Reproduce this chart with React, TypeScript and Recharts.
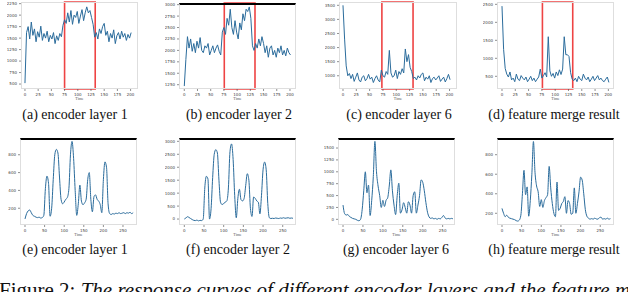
import React from 'react';
import { LineChart, Line, XAxis, YAxis, ReferenceArea } from 'recharts';

const TOP_STEP = 3;
const BOTTOM_STEP = 4;

const topTimeTicks = [0, 25, 50, 75, 100, 125, 150, 175, 200];
const bottomTimeTicks = [0, 50, 100, 150, 200, 250];

const yTicksA = [500, 750, 1000, 1250, 1500, 1750, 2000, 2250];
const yTicksB = [1250, 1500, 1750, 2000, 2250, 2500, 2750, 3000];
const yTicksC = [1000, 1500, 2000, 2500, 3000, 3500];
const yTicksD = [500, 1000, 1500, 2000, 2500];
const yTicksE = [200, 400, 600, 800];
const yTicksF = [0, 500, 1000, 1500, 2000, 2500, 3000];
const yTicksG = [0, 250, 500, 750, 1000, 1250, 1500];
const yTicksH = [200, 400, 600, 800];

const encoder1Top = [520, 1620, 1750, 1480, 1850, 1560, 1700, 1420, 1640, 1520, 1760, 1450, 1600, 1500, 1650, 1420, 1560, 1480, 1620, 1380, 1550, 1450, 1600, 1530, 1780, 1900, 1820, 2050, 1850, 2100, 1800, 2000, 1950, 2080, 1820, 1980, 2120, 1880, 2050, 2180, 2050, 2100, 1950, 1800, 1520, 1620, 1480, 1700, 1600, 1750, 1820, 1560, 1650, 1420, 1600, 1500, 1680, 1380, 1550, 1620, 1480, 1650, 1520, 1600, 1450, 1580, 1500, 1620];
const encoder2Top = [1220, 1800, 2300, 2050, 2250, 1980, 2150, 1950, 2200, 2050, 2280, 2000, 1950, 2100, 2050, 2150, 1900, 2000, 2100, 1950, 2050, 2120, 1980, 1900, 2400, 2500, 2350, 2700, 2550, 2900, 2500, 2350, 2650, 2400, 2250, 2600, 2450, 2800, 2650, 2900, 2850, 2950, 2700, 2100, 2000, 2150, 2050, 2250, 2100, 2300, 2150, 1950, 2100, 1850, 2050, 2100, 1900, 2000, 1850, 2050, 1950, 2100, 1900, 2000, 1880, 2050, 1950, 1900];
const encoder6Top = [3500, 2300, 1350, 1000, 1080, 900, 1050, 800, 950, 1100, 850, 780, 950, 1000, 820, 900, 1050, 880, 950, 760, 900, 1000, 850, 780, 1200, 1000, 950, 1150, 1050, 1900, 1100, 950, 1000, 1200, 900, 1150, 1050, 1250, 1100, 1950, 1500, 1750, 1300, 1150, 900, 950, 850, 1000, 920, 1050, 1100, 820, 950, 880, 1000, 760, 900, 950, 850, 920, 1000, 800, 880, 950, 780, 900, 1050, 860];
const mergeTop = [2450, 1250, 720, 560, 480, 620, 400, 450, 350, 560, 420, 380, 520, 450, 400, 480, 350, 420, 500, 380, 450, 350, 420, 480, 700, 450, 520, 600, 480, 1600, 650, 500, 580, 450, 620, 520, 680, 550, 700, 1600, 1100, 1100, 1050, 600, 420, 380, 450, 350, 500, 420, 380, 560, 450, 400, 480, 350, 420, 500, 380, 450, 520, 400, 450, 380, 350, 420, 480, 330];

const encoder1Bottom = [80, 140, 170, 180, 150, 120, 110, 100, 95, 100, 90, 95, 120, 420, 560, 480, 110, 200, 520, 800, 860, 820, 550, 300, 250, 270, 300, 320, 420, 800, 950, 760, 400, 120, 250, 460, 280, 240, 260, 300, 520, 600, 300, 160, 330, 350, 300, 280, 240, 150, 520, 720, 660, 250, 140, 130, 140, 135, 145, 140, 150, 140, 145, 150, 140, 150, 145, 155, 140, 150];
const encoder2Bottom = [0, 40, 90, 60, 20, -20, -50, -60, -40, -70, -50, -60, 0, 1200, 1650, 1550, 0, 400, 1600, 2500, 2680, 2550, 1500, 650, 560, 600, 650, 700, 1200, 2600, 2900, 2300, 900, 50, 800, 1150, 750, 700, 800, 1300, 1750, 1500, 400, 100, 850, 800, 700, 650, 200, 900, 1900, 2200, 1900, 600, 50, 20, 30, 20, 40, 30, 20, 40, 30, 50, 30, 40, 50, 30, 40, 30];
const encoder6Bottom = [300, 120, 90, 100, 60, 40, 20, 10, 0, -20, -30, 0, 200, 600, 1000, 560, 720, 80, 400, 900, 1640, 1000, 700, 500, 250, 400, 270, 400, 450, 700, 1040, 600, 300, 100, 500, 760, 130, 200, 350, 250, 130, 370, 300, 130, 500, 580, 130, 300, 500, 830, 780, 600, 350, 150, 50, 20, 30, 10, 20, 0, 20, 10, 40, 80, 30, 10, 20, 10, 20, 10];
const mergeBottom = [250, 200, 165, 180, 160, 150, 145, 140, 135, 125, 120, 130, 180, 400, 640, 390, 470, 170, 330, 600, 935, 620, 480, 420, 270, 340, 260, 330, 360, 390, 680, 460, 300, 200, 165, 520, 230, 250, 300, 320, 370, 200, 330, 300, 190, 200, 460, 200, 300, 420, 570, 540, 400, 240, 170, 150, 140, 145, 140, 150, 142, 140, 155, 160, 140, 145, 140, 150, 140, 145];

const captionsTop = ['(a) encoder layer 1', '(b) encoder layer 2', '(c) encoder layer 6', '(d) feature merge result'];
const captionsBottom = ['(e) encoder layer 1', '(f) encoder layer 2', '(g) encoder layer 6', '(h) feature merge result'];
const captionCentersTop = [75, 239, 399, 554];
const captionCentersBottom = [75, 238, 396, 554];
const figureLabel = 'Figure 2: ';
const figureText = 'The response curves of different encoder layers and the feature merge result.';

const Y_W = 14;
const X_H = 11;
const M_TOP = 3;
const M_RIGHT = 3;
const LINE_COLOR = '#2b6c9c';
const BOX_COLOR = '#ee4444';

type Box = { x: number; y: number; w: number; h: number };
type PanelProps = {
  values: number[];
  step: number;
  xDomain: [number, number];
  xTicks: number[];
  yDomain: [number, number];
  yTicks: number[];
  box: Box;
  topBlack: boolean;
  red?: [number, number];
  smooth: boolean;
};

function Panel(p: PanelProps) {
  const data = p.values.map((v, i) => ({ t: i * p.step, v }));
  const W = p.box.w + Y_W + M_RIGHT;
  const H = p.box.h + X_H + M_TOP;
  return (
    <div style={{ position: 'absolute', left: p.box.x - Y_W, top: p.box.y - M_TOP, width: W, height: H }}>
      <LineChart width={W} height={H} data={data} margin={{ top: M_TOP, right: M_RIGHT, bottom: 0, left: 0 }}>
        <XAxis
          dataKey="t"
          type="number"
          domain={p.xDomain}
          ticks={p.xTicks}
          allowDataOverflow
          interval={0}
          height={X_H}
          tickSize={2}
          tick={{ fontSize: 4, fill: '#444', fontFamily: 'DejaVu Sans' }}
          tickLine={{ stroke: '#444', strokeWidth: 0.6 }}
          axisLine={false}
          label={{ value: 'Time', position: 'insideBottom', offset: 0, fontSize: 4, fill: '#555' }}
        />
        <YAxis
          type="number"
          domain={p.yDomain}
          ticks={p.yTicks}
          allowDataOverflow
          interval={0}
          width={Y_W}
          tickSize={2}
          tick={{ fontSize: 4, fill: '#444', fontFamily: 'DejaVu Sans' }}
          tickLine={{ stroke: '#444', strokeWidth: 0.6 }}
          axisLine={false}
        />
        <Line
          dataKey="v"
          type={p.smooth ? 'monotone' : 'linear'}
          stroke={LINE_COLOR}
          strokeWidth={1}
          dot={false}
          isAnimationActive={false}
        />
        {p.red && (
          <ReferenceArea x1={p.red[0]} x2={p.red[1]} stroke={BOX_COLOR} strokeWidth={1.6} fill="none" fillOpacity={0} />
        )}
      </LineChart>
      <div
        style={{
          position: 'absolute',
          left: Y_W,
          top: M_TOP,
          width: p.box.w,
          height: p.box.h,
          boxSizing: 'border-box',
          border: '1px solid #dedede',
          borderTop: p.topBlack ? '2px solid #000' : '1px solid #dedede',
          pointerEvents: 'none',
        }}
      />
    </div>
  );
}

const captionStyle = (center: number, top: number): React.CSSProperties => ({
  position: 'absolute',
  left: center - 80,
  width: 160,
  top,
  textAlign: 'center',
  fontFamily: '"Liberation Serif", "Times New Roman", serif',
  fontSize: 14,
  lineHeight: 'normal',
  color: '#111',
  whiteSpace: 'nowrap',
});

export default function App() {
  return (
    <div
      style={{
        position: 'absolute',
        left: 0,
        top: 0,
        width: 628,
        height: 292,
        overflow: 'hidden',
        background: '#fff',
      }}
    >
      <Panel values={encoder1Top} step={TOP_STEP} xDomain={[-7.5, 214]} xTicks={topTimeTicks} yDomain={[392, 2286]} yTicks={yTicksA} box={{ x: 21, y: 2, w: 117, h: 87 }} topBlack={false} red={[75, 133]} smooth={false} />
      <Panel values={encoder2Top} step={TOP_STEP} xDomain={[-10, 211.4]} xTicks={topTimeTicks} yDomain={[1156, 3036]} yTicks={yTicksB} box={{ x: 179, y: 3, w: 117, h: 86 }} topBlack={true} red={[75.7, 133.8]} smooth={false} />
      <Panel values={encoder6Top} step={TOP_STEP} xDomain={[-7.5, 214]} xTicks={topTimeTicks} yDomain={[530, 3617]} yTicks={yTicksC} box={{ x: 339, y: 2, w: 118, h: 87 }} topBlack={false} red={[73, 131.5]} smooth={false} />
      <Panel values={mergeTop} step={TOP_STEP} xDomain={[-9.4, 210.6]} xTicks={topTimeTicks} yDomain={[147, 2565]} yTicks={yTicksD} box={{ x: 497, y: 2, w: 117, h: 87 }} topBlack={false} red={[76, 133]} smooth={false} />

      <Panel values={encoder1Bottom} step={BOTTOM_STEP} xDomain={[-12.8, 285.8]} xTicks={bottomTimeTicks} yDomain={[12, 988]} yTicks={yTicksE} box={{ x: 20, y: 138, w: 117, h: 87 }} topBlack={true} smooth={true} />
      <Panel values={encoder2Bottom} step={BOTTOM_STEP} xDomain={[-13.5, 283.7]} xTicks={bottomTimeTicks} yDomain={[-230, 3129]} yTicks={yTicksF} box={{ x: 179, y: 138, w: 117, h: 87 }} topBlack={true} smooth={true} />
      <Panel values={encoder6Bottom} step={BOTTOM_STEP} xDomain={[-12.6, 281]} xTicks={bottomTimeTicks} yDomain={[-119, 1711]} yTicks={yTicksG} box={{ x: 338, y: 138, w: 117, h: 87 }} topBlack={true} smooth={true} />
      <Panel values={mergeBottom} step={BOTTOM_STEP} xDomain={[-12.7, 285]} xTicks={bottomTimeTicks} yDomain={[80, 971]} yTicks={yTicksH} box={{ x: 497, y: 138, w: 117, h: 87 }} topBlack={true} smooth={true} />

      {captionsTop.map((c, i) => (
        <div key={c} style={captionStyle(captionCentersTop[i], 107)}>{c}</div>
      ))}
      {captionsBottom.map((c, i) => (
        <div key={c} style={captionStyle(captionCentersBottom[i], 242)}>{c}</div>
      ))}
      <div
        style={{
          position: 'absolute',
          left: -1,
          top: 278,
          fontFamily: '"Liberation Serif", "Times New Roman", serif',
          fontSize: 21,
          lineHeight: 'normal',
          color: '#111',
          whiteSpace: 'nowrap',
        }}
      >
        {figureLabel}
        <i>{figureText}</i>
      </div>
    </div>
  );
}
